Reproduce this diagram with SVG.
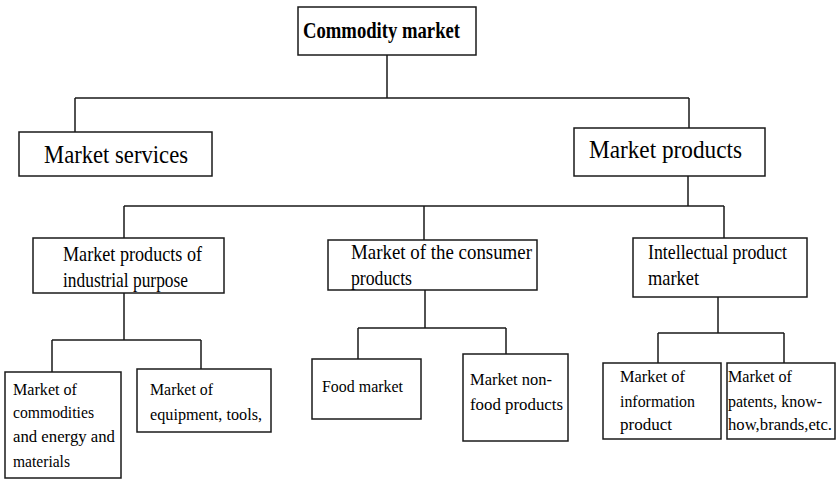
<svg xmlns="http://www.w3.org/2000/svg" width="837" height="479" viewBox="0 0 837 479" font-family="'Liberation Serif', 'DejaVu Serif', serif">
<style>
.box{fill:#fff;stroke:#1a1a1a;stroke-width:1.5}
.ln{fill:none;stroke:#1a1a1a;stroke-width:1.5}
text{font-family:'Liberation Serif','DejaVu Serif',serif;fill:#000}
.t0{font-size:23px;font-weight:bold}
.t1{font-size:26px}
.t2{font-size:21px}
.t3{font-size:17.5px}
</style>
<rect width="837" height="479" fill="#fff"/>
<g id="connectors">
<path class="ln" d="M387 55V98M75 98H689M75 98V132M689 98V128"/>
<path class="ln" d="M688 176V206M124 206H724M124 206V238M424 206V240M724 206V238"/>
<path class="ln" d="M124 293V340M52 340H201M52 340V372M201 340V369"/>
<path class="ln" d="M425 290V328M358 328H506M358 328V359M506 328V354"/>
<path class="ln" d="M718 297V333M658 333H784M658 333V363M784 333V363"/>
</g>
<g id="commodity-market">
<rect class="box" x="298" y="7" width="178" height="48"/>
<text class="t0" x="303" y="38" textLength="157" lengthAdjust="spacingAndGlyphs">Commodity market</text>
</g>
<g id="market-services">
<rect class="box" x="19" y="132" width="193" height="44"/>
<text class="t1" x="44" y="163" textLength="144" lengthAdjust="spacingAndGlyphs">Market services</text>
</g>
<g id="market-products">
<rect class="box" x="574" y="128" width="191" height="48"/>
<text class="t1" x="589" y="158" textLength="153" lengthAdjust="spacingAndGlyphs">Market products</text>
</g>
<g id="industrial">
<rect class="box" x="33" y="238" width="191" height="55"/>
<text class="t2" x="63" y="261" textLength="139" lengthAdjust="spacingAndGlyphs">Market products of</text>
<text class="t2" x="63" y="287" textLength="125" lengthAdjust="spacingAndGlyphs">industrial purpose</text>
</g>
<g id="consumer">
<rect class="box" x="328" y="240" width="209" height="50"/>
<text class="t2" x="351" y="259" textLength="181" lengthAdjust="spacingAndGlyphs">Market of the consumer</text>
<text class="t2" x="351" y="285" textLength="61" lengthAdjust="spacingAndGlyphs">products</text>
</g>
<g id="intellectual">
<rect class="box" x="633" y="238" width="174" height="59"/>
<text class="t2" x="648" y="259" textLength="139" lengthAdjust="spacingAndGlyphs">Intellectual product</text>
<text class="t2" x="648" y="285" textLength="51" lengthAdjust="spacingAndGlyphs">market</text>
</g>
<g id="commodities-energy">
<rect class="box" x="5" y="372" width="116" height="106"/>
<text class="t3" x="13" y="395" textLength="64" lengthAdjust="spacingAndGlyphs">Market of</text>
<text class="t3" x="13" y="418" textLength="81" lengthAdjust="spacingAndGlyphs">commodities</text>
<text class="t3" x="13" y="442" textLength="102" lengthAdjust="spacingAndGlyphs">and energy and</text>
<text class="t3" x="13" y="467" textLength="57" lengthAdjust="spacingAndGlyphs">materials</text>
</g>
<g id="equipment">
<rect class="box" x="137" y="369" width="134" height="63"/>
<text class="t3" x="150" y="395" textLength="63" lengthAdjust="spacingAndGlyphs">Market of</text>
<text class="t3" x="150" y="420" textLength="112" lengthAdjust="spacingAndGlyphs">equipment, tools,</text>
</g>
<g id="food-market">
<rect class="box" x="312" y="359" width="109" height="60"/>
<text class="t3" x="322" y="392" textLength="81" lengthAdjust="spacingAndGlyphs">Food market</text>
</g>
<g id="non-food">
<rect class="box" x="463" y="354" width="105" height="87"/>
<text class="t3" x="470" y="385" textLength="82" lengthAdjust="spacingAndGlyphs">Market non-</text>
<text class="t3" x="470" y="410" textLength="93" lengthAdjust="spacingAndGlyphs">food products</text>
</g>
<g id="information">
<rect class="box" x="603" y="363" width="118" height="76"/>
<text class="t3" x="620" y="382" textLength="65" lengthAdjust="spacingAndGlyphs">Market of</text>
<text class="t3" x="620" y="407" textLength="75" lengthAdjust="spacingAndGlyphs">information</text>
<text class="t3" x="620" y="430" textLength="52" lengthAdjust="spacingAndGlyphs">product</text>
</g>
<g id="patents">
<rect class="box" x="727" y="363" width="108" height="76"/>
<text class="t3" x="728" y="382" textLength="64" lengthAdjust="spacingAndGlyphs">Market of</text>
<text class="t3" x="728" y="407" textLength="94" lengthAdjust="spacingAndGlyphs">patents, know-</text>
<text class="t3" x="728" y="430" textLength="104" lengthAdjust="spacingAndGlyphs">how,brands,etc.</text>
</g>
</svg>
